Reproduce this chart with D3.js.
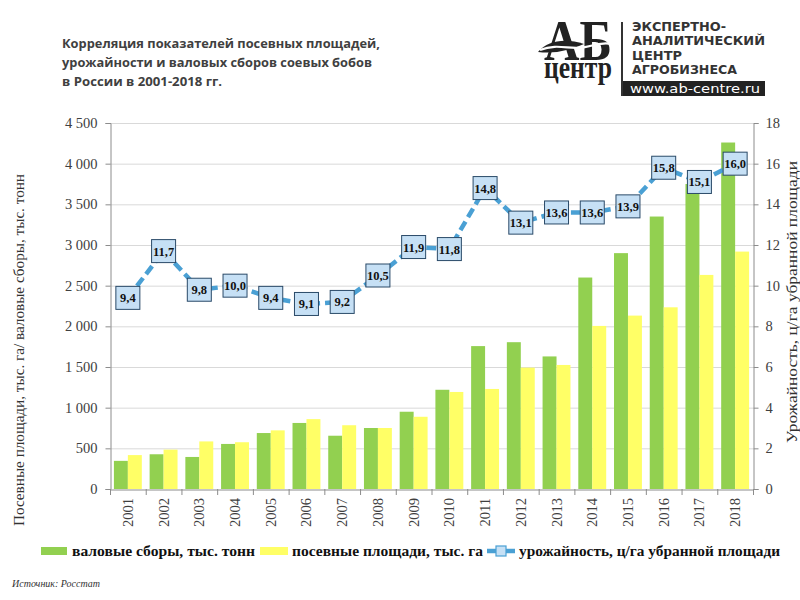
<!DOCTYPE html>
<html>
<head>
<meta charset="utf-8">
<script src="https://cdn.jsdelivr.net/npm/d3@7"></script>
<style>
  html, body { margin: 0; padding: 0; background: #fff; }
  svg { display: block; }
</style>
</head>
<body>
<svg id="chart" width="800" height="600"></svg>
<script>
// ---------- DATA ----------
const years = ["2001","2002","2003","2004","2005","2006","2007","2008","2009","2010","2011","2012","2013","2014","2015","2016","2017","2018"];
const harvest = [346, 427, 394, 554, 688, 812, 655, 750, 950, 1220, 1757, 1805, 1630, 2600, 2900, 3350, 3750, 4260]; // валовые сборы, тыс. тонн
const area = [417, 484, 585, 575, 721, 859, 784, 750, 888, 1193, 1230, 1492, 1525, 2005, 2132, 2234, 2632, 2919];    // посевные площади, тыс. га
const yieldVals = [9.4, 11.7, 9.8, 10.0, 9.4, 9.1, 9.2, 10.5, 11.9, 11.8, 14.8, 13.1, 13.6, 13.6, 13.9, 15.8, 15.1, 16.0]; // урожайность, ц/га
const leftTicks = [0, 500, 1000, 1500, 2000, 2500, 3000, 3500, 4000, 4500];
const rightTicks = [0, 2, 4, 6, 8, 10, 12, 14, 16, 18];
const titleLines = ["Корреляция показателей посевных площадей,", "урожайности и валовых сборов соевых бобов", "в России в 2001-2018 гг."];
const legendLabels = ["валовые сборы, тыс. тонн", "посевные площади, тыс. га", "урожайность, ц/га убранной площади"];

// ---------- LAYOUT ----------
const svg = d3.select("#chart");
const X0 = 110, X1 = 753, Y0 = 489, Y1 = 123;
const serif = "'Liberation Serif', 'Times New Roman', serif";
const green = "#92d050", yellow = "#ffff66", lineBlue = "#4aa0d4";

const x = d3.scaleBand().domain(years).range([X0, X1]).padding(0);
const sub = d3.scaleBand().domain(["h", "a"]).range([0, x.bandwidth()]).paddingInner(0).paddingOuter(0.28);
const yL = d3.scaleLinear().domain([0, 4500]).range([Y0, Y1]);
const yR = d3.scaleLinear().domain([0, 18]).range([Y0, Y1]);

// gridlines
svg.append("g").selectAll("line").data(leftTicks.slice(1)).join("line")
  .attr("x1", X0).attr("x2", X1)
  .attr("y1", d => yL(d) + 0.5).attr("y2", d => yL(d) + 0.5)
  .attr("stroke", "#d9d9d9").attr("stroke-width", 1);

// bars
const groups = svg.append("g").selectAll("g").data(years).join("g")
  .attr("transform", d => `translate(${x(d)},0)`);
groups.append("rect")
  .attr("x", sub("h")).attr("width", sub.bandwidth())
  .attr("y", (d, i) => yL(harvest[i])).attr("height", (d, i) => Y0 - yL(harvest[i]))
  .attr("fill", green);
groups.append("rect")
  .attr("x", sub("a")).attr("width", sub.bandwidth())
  .attr("y", (d, i) => yL(area[i])).attr("height", (d, i) => Y0 - yL(area[i]))
  .attr("fill", yellow);

// axes
const axL = d3.axisLeft(yL).tickValues(leftTicks).tickSize(5).tickPadding(8)
  .tickFormat(d => d3.format(",")(d).replace(/,/g, " "));
const gL = svg.append("g").attr("transform", `translate(${X0 + 0.5},0)`).call(axL);
const axR = d3.axisRight(yR).tickValues(rightTicks).tickSize(5).tickPadding(7);
const gR = svg.append("g").attr("transform", `translate(${X1 + 0.5},0)`).call(axR);
const axB = d3.axisBottom(x).tickSize(0).tickFormat("");
const gB = svg.append("g").attr("transform", `translate(0,${Y0 + 0.5})`).call(axB);
[gL, gR, gB].forEach(g => {
  g.select(".domain").attr("stroke", "#8c8c8c");
  g.selectAll(".tick line").attr("stroke", "#8c8c8c");
  g.selectAll("text").attr("font-family", serif).attr("font-size", 14.5).attr("fill", "#404040");
});
// category boundary ticks on x axis
svg.append("g").selectAll("line").data(years.concat(["end"])).join("line")
  .attr("x1", (d, i) => X0 + i * x.step() + 0.5).attr("x2", (d, i) => X0 + i * x.step() + 0.5)
  .attr("y1", Y0).attr("y2", Y0 + 6).attr("stroke", "#8c8c8c");
// year labels rotated
svg.append("g").selectAll("text").data(years).join("text")
  .attr("transform", d => `translate(${x(d) + x.bandwidth() / 2 + 5},${Y0 + 9}) rotate(-90)`)
  .attr("text-anchor", "end")
  .attr("font-family", serif).attr("font-size", 14.5).attr("fill", "#404040")
  .text(d => d);

// yield line
const pts = years.map((d, i) => [x(d) + x.bandwidth() / 2, yR(yieldVals[i])]);
svg.append("path").attr("d", d3.line()(pts))
  .attr("fill", "none").attr("stroke", lineBlue).attr("stroke-width", 4.5)
  .attr("stroke-dasharray", "10,5");
const boxes = svg.append("g").selectAll("g").data(years).join("g")
  .attr("transform", (d, i) => `translate(${pts[i][0]},${pts[i][1]})`);
boxes.append("rect").attr("x", -12).attr("y", -11.5).attr("width", 24).attr("height", 23)
  .attr("fill", "#c6e0f5").attr("stroke", "#2a4a68").attr("stroke-width", 1);
boxes.append("text").attr("text-anchor", "middle").attr("y", 4.5)
  .attr("font-family", serif).attr("font-weight", "bold").attr("font-size", 12.5).attr("fill", "#111")
  .text((d, i) => yieldVals[i].toFixed(1).replace(".", ","));

// axis titles
svg.append("text")
  .attr("transform", `translate(24,350) rotate(-90)`)
  .attr("text-anchor", "middle").attr("font-family", serif).attr("font-size", 14.5).attr("fill", "#333")
  .attr("textLength", 352).attr("lengthAdjust", "spacingAndGlyphs")
  .text("Посевные площади, тыс. га/ валовые сборы, тыс. тонн");
svg.append("text")
  .attr("transform", `translate(797,302) rotate(-90)`)
  .attr("text-anchor", "middle").attr("font-family", serif).attr("font-size", 14.5).attr("fill", "#333")
  .attr("textLength", 282).attr("lengthAdjust", "spacingAndGlyphs")
  .text("Урожайность, ц/га убранной площади");

// title
const tLens = [318, 310, 160];
svg.append("g").selectAll("text").data(titleLines).join("text")
  .attr("x", 62).attr("y", (d, i) => 48 + i * 19)
  .attr("font-family", "'Open Sans', sans-serif").attr("font-weight", "bold").attr("font-size", 12.5)
  .attr("fill", "#404040")
  .attr("textLength", (d, i) => tLens[i]).attr("lengthAdjust", "spacingAndGlyphs")
  .text(d => d);

// logo
const logo = svg.append("g");
const mark = logo.append("text")
  .attr("font-family", serif).attr("font-weight", "bold").attr("fill", "#222");
mark.append("tspan").attr("x", 544).attr("y", 60).attr("font-size", 56)
  .attr("textLength", 68).attr("lengthAdjust", "spacingAndGlyphs").text("АБ");
mark.append("tspan").attr("x", 544).attr("y", 78).attr("font-size", 31)
  .attr("textLength", 68).attr("lengthAdjust", "spacingAndGlyphs").text("центр");
logo.append("path").attr("d", "M538,52 C548,40 566,38 584,44 C570,50 556,54 538,52 Z").attr("fill", "#222");
logo.append("path").attr("d", "M540,50 C560,42 572,52 590,46 C600,43 608,42 616,45")
  .attr("fill", "none").attr("stroke", "#fff").attr("stroke-width", 2.2);
logo.append("line").attr("x1", 622).attr("x2", 622).attr("y1", 22).attr("y2", 96)
  .attr("stroke", "#333").attr("stroke-width", 2);
const logoLines = ["ЭКСПЕРТНО-", "АНАЛИТИЧЕСКИЙ", "ЦЕНТР", "АГРОБИЗНЕСА"];
const logoLens = [94, 133, 50, 105];
logo.selectAll("text.ll").data(logoLines).join("text").attr("class", "ll")
  .attr("x", 632).attr("y", (d, i) => 31 + i * 14.4)
  .attr("font-family", "'DejaVu Sans', sans-serif").attr("font-weight", "bold").attr("font-size", 12.5)
  .attr("fill", "#333")
  .attr("textLength", (d, i) => logoLens[i]).attr("lengthAdjust", "spacingAndGlyphs")
  .text(d => d);
logo.append("rect").attr("x", 623).attr("y", 81).attr("width", 142).attr("height", 15).attr("fill", "#222");
logo.append("text").attr("x", 630).attr("y", 93)
  .attr("font-family", "'DejaVu Sans', sans-serif").attr("font-size", 13).attr("fill", "#fff")
  .attr("textLength", 130).attr("lengthAdjust", "spacingAndGlyphs").text("www.ab-centre.ru");

// legend
const lg = svg.append("g");
const LY = 551;
lg.append("rect").attr("x", 41).attr("y", LY - 4).attr("width", 26).attr("height", 8).attr("fill", green);
lg.append("rect").attr("x", 260).attr("y", LY - 4).attr("width", 28).attr("height", 8).attr("fill", yellow);
lg.append("line").attr("x1", 487).attr("x2", 515).attr("y1", LY).attr("y2", LY)
  .attr("stroke", lineBlue).attr("stroke-width", 4.5);
lg.append("rect").attr("x", 496).attr("y", LY - 5).attr("width", 10).attr("height", 10)
  .attr("fill", "#c6e0f5").attr("stroke", lineBlue).attr("stroke-width", 1.2);
const legX = [72, 292, 519], legLen = [183, 191, 261];
lg.selectAll("text").data(legendLabels).join("text")
  .attr("x", (d, i) => legX[i]).attr("y", LY + 5)
  .attr("font-family", serif).attr("font-weight", "bold").attr("font-size", 15.5).attr("fill", "#111")
  .attr("textLength", (d, i) => legLen[i]).attr("lengthAdjust", "spacingAndGlyphs")
  .text(d => d);

// source
svg.append("text").attr("x", 12).attr("y", 587)
  .attr("font-family", serif).attr("font-style", "italic").attr("font-size", 10).attr("fill", "#333")
  .text("Источник:  Росстат");
</script>
</body>
</html>
